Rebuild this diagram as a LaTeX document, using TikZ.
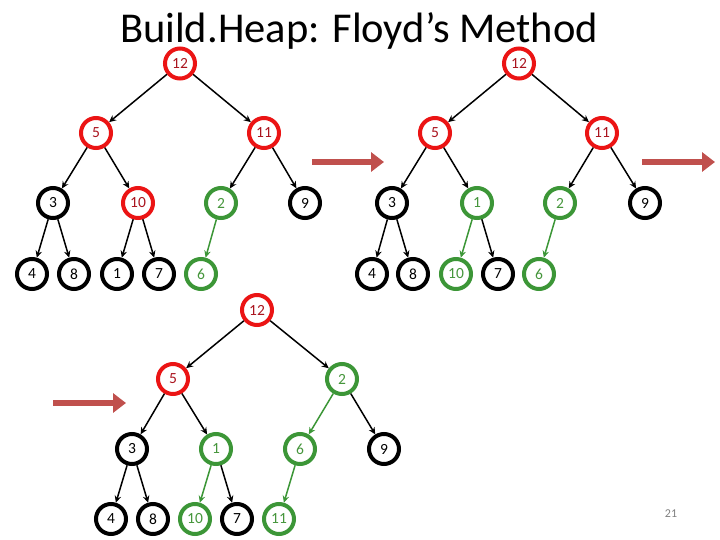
\documentclass[tikz,border=0pt]{standalone}
\usepackage{fontspec}
\setmainfont{Carlito}
\usetikzlibrary{arrows.meta}
\definecolor{hred}{RGB}{235,20,20}
\definecolor{hredtxt}{RGB}{170,20,30}
\definecolor{hgreen}{RGB}{60,150,55}
\definecolor{hgreentxt}{RGB}{70,150,60}
\definecolor{bigarrow}{RGB}{192,80,77}
\tikzset{
  hn/.style={circle, draw=black, line width=4pt, minimum size=30pt, inner sep=0pt, fill=white, font=\fontsize{15.5}{15.5}\selectfont},
  rn/.style={hn, draw=hred, text=hredtxt},
  gn/.style={hn, draw=hgreen, text=hgreentxt},
  ed/.style={line width=1.5pt, -{Stealth[length=7pt,width=6.5pt]}},
  ged/.style={ed, draw=hgreen},
  big/.style={draw=bigarrow, line width=5.5pt, -{Triangle[length=13pt,width=19pt]}}
}
\begin{document}
\begin{tikzpicture}[x=1pt,y=-1pt]
\useasboundingbox (0,0) rectangle (720,540);
\node[font=\fontsize{42.5}{42.5}\selectfont, anchor=base] (title) at (359,43) {Build.Heap: Floyd’s Method};
% Tree 1
\node[rn] (a12) at (180,63.5) {12};
\node[rn] (a5) at (96,133) {5};
\node[rn] (a11) at (264,133) {11};
\node[hn] (a3) at (53,203) {3};
\node[rn] (a10) at (138,203) {10};
\node[gn] (a2) at (221,203) {2};
\node[hn] (a9) at (305,203) {9};
\node[hn] (a4) at (32,274) {4};
\node[hn] (a8) at (74,274) {8};
\node[hn] (a1) at (117,274) {1};
\node[hn] (a7) at (159,274) {7};
\node[gn] (a6) at (201,274) {6};
\draw[ed] (a12) -- (a5);
\draw[ed] (a12) -- (a11);
\draw[ed] (a5) -- (a3);
\draw[ed] (a5) -- (a10);
\draw[ed] (a11) -- (a2);
\draw[ed] (a11) -- (a9);
\draw[ed] (a3) -- (a4);
\draw[ed] (a3) -- (a8);
\draw[ed] (a10) -- (a1);
\draw[ed] (a10) -- (a7);
\draw[ged] (a2) -- (a6);
% Tree 2
\node[rn] (b12) at (519,63.5) {12};
\node[rn] (b5) at (435,133) {5};
\node[rn] (b11) at (602,133) {11};
\node[hn] (b3) at (392,203) {3};
\node[gn] (b1) at (477,203) {1};
\node[gn] (b2) at (560,203) {2};
\node[hn] (b9) at (645,203) {9};
\node[hn] (b4) at (372,274) {4};
\node[hn] (b8) at (413,274) {8};
\node[gn] (b10) at (456,274) {10};
\node[hn] (b7) at (498,274) {7};
\node[gn] (b6) at (539,274) {6};
\draw[ed] (b12) -- (b5);
\draw[ed] (b12) -- (b11);
\draw[ed] (b5) -- (b3);
\draw[ed] (b5) -- (b1);
\draw[ed] (b11) -- (b2);
\draw[ed] (b11) -- (b9);
\draw[ed] (b3) -- (b4);
\draw[ed] (b3) -- (b8);
\draw[ged] (b1) -- (b10);
\draw[ed] (b1) -- (b7);
\draw[ged] (b2) -- (b6);
% Tree 3
\node[rn] (c12) at (257,310) {12};
\node[rn] (c5) at (173,379) {5};
\node[gn] (c2) at (342,379) {2};
\node[hn] (c3) at (132,449) {3};
\node[gn] (c1) at (216,449) {1};
\node[gn] (c6) at (300,449) {6};
\node[hn] (c9) at (384,449) {9};
\node[hn] (c4) at (111,519) {4};
\node[hn] (c8) at (153,519) {8};
\node[gn] (c10) at (195,519) {10};
\node[hn] (c7) at (237,519) {7};
\node[gn] (c11) at (279,519) {11};
\draw[ed] (c12) -- (c5);
\draw[ed] (c12) -- (c2);
\draw[ed] (c5) -- (c3);
\draw[ed] (c5) -- (c1);
\draw[ged] (c2) -- (c6);
\draw[ed] (c2) -- (c9);
\draw[ed] (c3) -- (c4);
\draw[ed] (c3) -- (c8);
\draw[ged] (c1) -- (c10);
\draw[ed] (c1) -- (c7);
\draw[ged] (c6) -- (c11);
% big arrows
\coordinate (p1s) at (312,162); \coordinate (p1e) at (384,162);
\coordinate (p2s) at (642,162); \coordinate (p2e) at (715,162);
\coordinate (p3s) at (53,403); \coordinate (p3e) at (126,403);
\draw[big] (p1s) -- (p1e);
\draw[big] (p2s) -- (p2e);
\draw[big] (p3s) -- (p3e);
% page number
\node[text=gray, font=\fontsize{12}{12}\selectfont] (pg) at (671,514) {21};
\end{tikzpicture}
\end{document}
